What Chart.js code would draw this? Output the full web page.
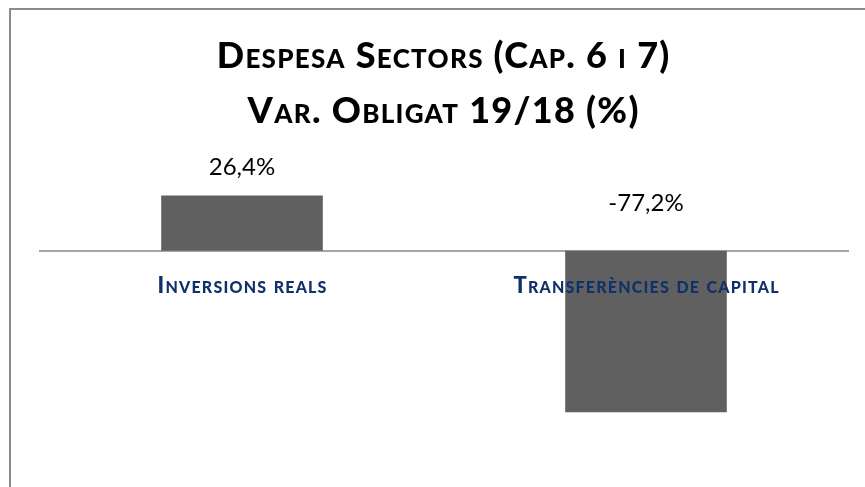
<!DOCTYPE html>
<html>
<head>
<meta charset="utf-8">
<script src="https://cdn.jsdelivr.net/npm/chart.js@4/dist/chart.umd.min.js"></script>
<style>
  html, body { margin: 0; padding: 0; background: #fff; overflow: hidden; }
  #box { position: absolute; left: 0; top: 0; width: 865px; height: 487px; }
  #frame { position: absolute; left: 9px; top: 8px; width: 900px; height: 520px;
           border-left: 2px solid #8c8c8c; border-top: 2px solid #8c8c8c; pointer-events: none; }
</style>
</head>
<body>
<div id="box"><canvas id="chart"></canvas></div>
<div id="frame"></div>
<script>
(function(){
  // chart data
  const titleLines = ['Despesa Sectors (Cap. 6 i 7)', 'Var. Obligat 19/18 (%)'];
  const categories = ['Inversions reals', 'Transferències de capital'];
  const values = [26.4, -77.2];
  const yMin = -99;
  const yMax = 40;

  const FONT = 'Lato, "Open Sans", sans-serif';

  function fmt(v){
    return v.toFixed(1).replace('.', ',') + '%';
  }

  // draws text in small caps: lowercase letters become smaller capitals
  function drawSmallCaps(ctx, text, cx, y, bigSize, smallSize, spacing, weight, color){
    const runs = [];
    for(const ch of text){
      const small = ch !== ch.toUpperCase();
      const last = runs[runs.length - 1];
      if(last && last.small === small) last.t += ch.toUpperCase();
      else runs.push({ t: ch.toUpperCase(), small });
    }
    ctx.letterSpacing = spacing + 'px';
    let total = 0;
    runs.forEach(r => {
      ctx.font = `${weight} ${r.small ? smallSize : bigSize}px ${FONT}`;
      r.w = ctx.measureText(r.t).width;
      total += r.w;
    });
    total -= spacing;
    let x = cx - total / 2;
    ctx.fillStyle = color;
    ctx.textAlign = 'left';
    ctx.textBaseline = 'alphabetic';
    runs.forEach(r => {
      ctx.font = `${weight} ${r.small ? smallSize : bigSize}px ${FONT}`;
      ctx.fillText(r.t, x, y);
      x += r.w;
    });
    ctx.letterSpacing = '0px';
  }

  const labelsPlugin = {
    id: 'labelsPlugin',
    afterDraw(chart){
      const ctx = chart.ctx;
      const area = chart.chartArea;
      const xs = chart.scales.x;
      const ys = chart.scales.y;
      const zero = ys.getPixelForValue(0);
      const cx = (area.left + area.right) / 2 - 1;
      ctx.save();

      // title
      drawSmallCaps(ctx, titleLines[0], cx, 68, 36, 26, 1.3, 900, '#000');
      drawSmallCaps(ctx, titleLines[1], cx, 123, 36, 26, 1.3, 900, '#000');

      // value labels
      const meta = chart.getDatasetMeta(0);
      ctx.font = `24px ${FONT}`;
      ctx.fillStyle = '#000';
      ctx.textAlign = 'center';
      ctx.textBaseline = 'middle';
      meta.data.forEach((bar, i) => {
        const y = values[i] >= 0 ? bar.y - 28 : zero - 47;
        ctx.fillText(fmt(values[i]), bar.x, y);
      });

      // category labels
      categories.forEach((c, i) => {
        drawSmallCaps(ctx, c, xs.getPixelForValue(i), zero + 42, 22, 16, 1.2, 900, '#10306b');
      });
      ctx.restore();
    }
  };

  new Chart(document.getElementById('chart'), {
    type: 'bar',
    data: {
      labels: categories,
      datasets: [{
        data: values,
        backgroundColor: '#606060',
        borderWidth: 0,
        categoryPercentage: 0.4,
        barPercentage: 1
      }]
    },
    options: {
      responsive: true,
      maintainAspectRatio: false,
      animation: false,
      layout: { padding: { left: 40, right: 17, top: 167, bottom: 29 } },
      plugins: {
        legend: { display: false },
        tooltip: { enabled: false },
        title: { display: false }
      },
      scales: {
        x: {
          position: { y: 0 },
          z: 1,
          grid: { display: false },
          border: { display: true, color: '#a6a6a6', width: 2 },
          ticks: { display: false }
        },
        y: {
          display: false,
          min: yMin,
          max: yMax
        }
      }
    },
    plugins: [labelsPlugin]
  });
})();
</script>
</body>
</html>
